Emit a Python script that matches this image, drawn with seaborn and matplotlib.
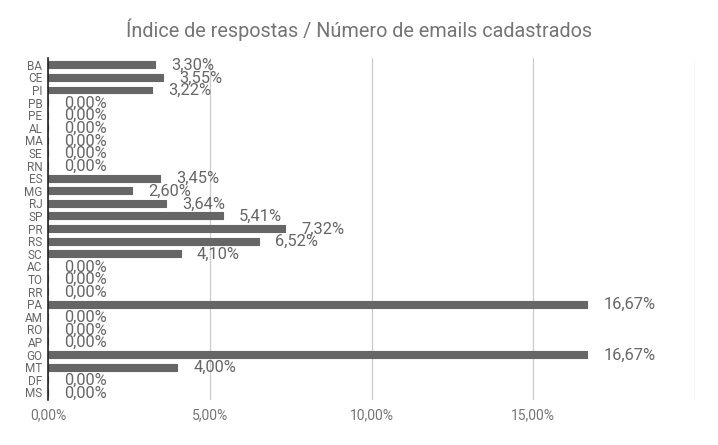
import matplotlib
matplotlib.use("Agg")
import matplotlib.pyplot as plt
import seaborn as sns
import pandas as pd

states = ["BA", "CE", "PI", "PB", "PE", "AL", "MA", "SE", "RN", "ES", "MG", "RJ", "SP",
          "PR", "RS", "SC", "AC", "TO", "RR", "PA", "AM", "RO", "AP", "GO", "MT", "DF", "MS"]
values = [3.30, 3.55, 3.22, 0, 0, 0, 0, 0, 0, 3.45, 2.60, 3.64, 5.41,
          7.32, 6.52, 4.10, 0, 0, 0, 16.67, 0, 0, 0, 16.67, 4.00, 0, 0]
xticks = [0, 5, 10, 15]
xtick_labels = ["0,00%", "5,00%", "10,00%", "15,00%"]
title = "Índice de respostas / Número de emails cadastrados"

sns.set_style("white")
plt.rcParams["font.family"] = ["Roboto", "DejaVu Sans"]

df = pd.DataFrame({"estado": states, "indice": values})

fig = plt.figure(figsize=(7.18, 4.45), dpi=100)
ax = fig.add_axes([48 / 718, 45 / 445, (695 - 48) / 718, (400 - 58) / 445])

sns.barplot(data=df, y="estado", x="indice", orient="h", color="#666666",
            width=0.55, saturation=1, ax=ax, zorder=3)
for p in ax.patches:
    p.set_edgecolor("#666666")
    p.set_linewidth(0.8)
    p.set_joinstyle("round")

ax.set_xlim(0, 20)
n = len(states)
ax.set_ylim(n - 1 + 0.61, -0.54)
ax.set_xticks(xticks + [20])
ax.set_xticklabels(xtick_labels + [""])
ax.grid(axis="x", color="#cccccc", linewidth=0.9, zorder=0)
ax.set_axisbelow(True)
ax.set_xlabel("")
ax.set_ylabel("")
for s in ["top", "right", "bottom"]:
    ax.spines[s].set_visible(False)
ax.spines["left"].set_color("#222222")
ax.spines["left"].set_linewidth(1.2)
ax.spines["left"].set_zorder(5)
ax.tick_params(axis="x", length=0, labelsize=10, labelcolor="#757575", pad=6)
ax.tick_params(axis="y", length=0, labelsize=8.5, labelcolor="#666666", pad=4)

for i, v in enumerate(values):
    lab = f"{v:.2f}".replace(".", ",") + "%"
    ax.text(v + 0.5, i + 0.05, lab, va="center", ha="left", fontsize=11.8,
            color="#666666", zorder=6)

fig.text(0.5, 1 - 30 / 445, title, ha="center", va="center", fontsize=14.3,
         color="#757575")

fig.savefig("out.png", dpi=100)
